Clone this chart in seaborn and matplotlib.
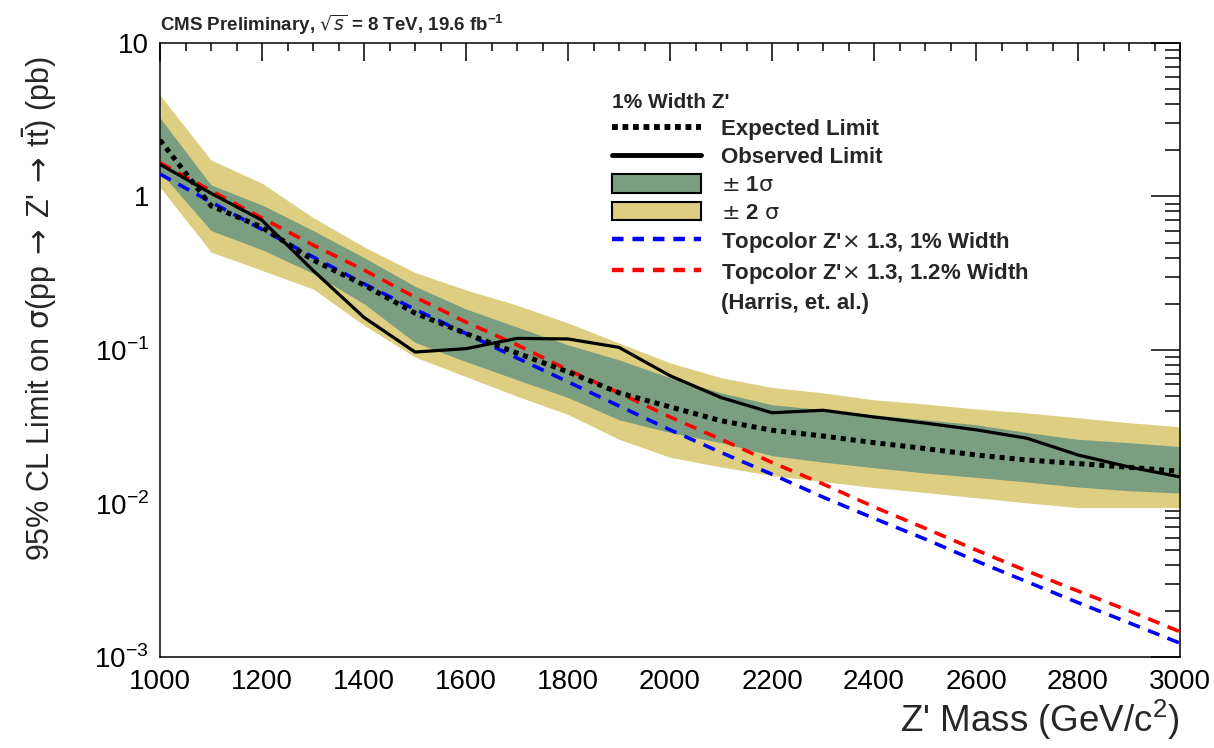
import matplotlib
matplotlib.use("Agg")
import matplotlib.pyplot as plt
import seaborn as sns
from matplotlib.lines import Line2D
from matplotlib.patches import Patch
from matplotlib.ticker import FixedLocator, FixedFormatter, MultipleLocator, LogLocator, NullFormatter

# --- DATA ---
mass = [1000, 1100, 1200, 1300, 1400, 1500, 1600, 1700, 1800, 1900, 2000,
        2100, 2200, 2300, 2400, 2500, 2600, 2700, 2800, 2900, 3000]

expected = [2.33, 0.87, 0.63, 0.386, 0.265, 0.174, 0.128, 0.0955, 0.072, 0.0526, 0.0426,
            0.0346, 0.0300, 0.0275, 0.0249, 0.0228, 0.0207, 0.0192, 0.0182, 0.0172, 0.0162]
observed = [1.62, 1.05, 0.70, 0.33, 0.163, 0.097, 0.102, 0.119, 0.118, 0.104, 0.068,
            0.049, 0.039, 0.0405, 0.0366, 0.0334, 0.0302, 0.0266, 0.0207, 0.0173, 0.0149]

sigma1_hi = [3.25, 1.19, 0.88, 0.60, 0.40, 0.26, 0.185, 0.141, 0.108, 0.0862, 0.066,
             0.0526, 0.044, 0.0408, 0.0378, 0.0351, 0.0326, 0.029, 0.0262, 0.0249, 0.0235]
sigma1_lo = [1.45, 0.60, 0.45, 0.316, 0.20, 0.112, 0.084, 0.064, 0.049, 0.0351, 0.029,
             0.0249, 0.0205, 0.0186, 0.0171, 0.0158, 0.0148, 0.0138, 0.0128, 0.0121, 0.0117]
sigma2_hi = [4.58, 1.73, 1.22, 0.73, 0.47, 0.32, 0.246, 0.196, 0.150, 0.111, 0.0825,
             0.066, 0.057, 0.0526, 0.0474, 0.0445, 0.0413, 0.0389, 0.0362, 0.0336, 0.0316]
sigma2_lo = [1.15, 0.435, 0.33, 0.25, 0.145, 0.09, 0.067, 0.05, 0.038, 0.0262, 0.020,
             0.0173, 0.0152, 0.0139, 0.0127, 0.0118, 0.0109, 0.0101, 0.0094, 0.0094, 0.0094]

topcolor_1pct = [1.40, 0.92, 0.61, 0.404, 0.27, 0.184, 0.128, 0.0887, 0.062, 0.0432, 0.0302,
                 0.0215, 0.0155, 0.0110, 0.0080, 0.00587, 0.00423, 0.00309, 0.00226, 0.00167, 0.00123]
topcolor_12pct = [1.66, 1.09, 0.724, 0.483, 0.332, 0.221, 0.152, 0.108, 0.0741, 0.0526, 0.0366,
                  0.0262, 0.0185, 0.0134, 0.0095, 0.0069, 0.00498, 0.00363, 0.00269, 0.0020, 0.00146]

x_ticks = [1000, 1200, 1400, 1600, 1800, 2000, 2200, 2400, 2600, 2800, 3000]
y_ticks = [1e-3, 1e-2, 1e-1, 1, 10]
y_ticklabels = [r"10$^{\mathregular{-3}}$", r"10$^{\mathregular{-2}}$", r"10$^{\mathregular{-1}}$", "1", "10"]

GREEN = "#7b9e80"
YELLOW = "#dece82"

# --- STYLE ---
sns.set_theme(style="white")
plt.rcParams["font.family"] = ["Liberation Sans", "DejaVu Sans"]
plt.rcParams["mathtext.fontset"] = "dejavusans"

fig = plt.figure(figsize=(12.14, 7.48), dpi=100)
ax = fig.add_axes([0.1318, 0.1217, 0.8402, 0.8208])

# uncertainty bands
ax.fill_between(mass, sigma2_lo, sigma2_hi, color=YELLOW, lw=0, zorder=1)
ax.fill_between(mass, sigma1_lo, sigma1_hi, color=GREEN, lw=0, zorder=2)

# theory curves and limits
dash = (0, (3.4, 2.4))
sns.lineplot(x=mass, y=topcolor_1pct, ax=ax, color="#0000ff", lw=2.6, linestyle=dash, zorder=3)
sns.lineplot(x=mass, y=topcolor_12pct, ax=ax, color="#ff0000", lw=2.6, linestyle=dash, zorder=3)
sns.lineplot(x=mass, y=expected, ax=ax, color="black", lw=3.6, linestyle=(0, (1, 1)), zorder=4)
sns.lineplot(x=mass, y=observed, ax=ax, color="black", lw=2.3, zorder=5)

ax.set_yscale("log")
ax.set_xlim(1000, 3000)
ax.set_ylim(1e-3, 10)

# ROOT-like ticks on all sides, pointing in
ax.xaxis.set_major_locator(FixedLocator(x_ticks))
ax.xaxis.set_minor_locator(MultipleLocator(50))
ax.yaxis.set_major_locator(FixedLocator(y_ticks))
ax.yaxis.set_major_formatter(FixedFormatter(y_ticklabels))
ax.yaxis.set_minor_locator(LogLocator(base=10, subs=range(2, 10), numticks=20))
ax.yaxis.set_minor_formatter(NullFormatter())
ax.tick_params(axis="both", which="both", direction="in", top=True, right=True,
               colors="black", width=1.1)
ax.tick_params(axis="x", which="major", length=13, labelsize=20, pad=9)
ax.tick_params(axis="x", which="minor", length=6)
ax.tick_params(axis="y", which="major", length=21, labelsize=20, pad=8)
ax.tick_params(axis="y", which="minor", length=10.5)
for sp in ax.spines.values():
    sp.set_linewidth(1.1)
    sp.set_color("black")

ax.set_xlabel(r"Z' Mass (GeV/c$^{\mathregular{2}}$)", fontsize=26.5, loc="right", labelpad=1)
ax.set_ylabel(r"95% CL Limit on $\mathrm{\sigma}$(pp$\,\rightarrow\,$Z'$\,\rightarrow\,$t$\bar{\mathregular{t}}$) (pb)",
              fontsize=22, loc="top")
ax.yaxis.set_label_coords(-0.099, 0.978)
ax.set_title(r"CMS Preliminary, $\sqrt{s}$ = 8 TeV, 19.6 fb$^{\mathregular{-1}}$",
             loc="left", fontsize=13.5, fontweight="bold", pad=9)

# legend
handles = [
    Line2D([], [], color="black", lw=4.2, linestyle=(0, (1, 0.8))),
    Line2D([], [], color="black", lw=3.5),
    Patch(facecolor=GREEN, edgecolor="black", lw=1.5),
    Patch(facecolor=YELLOW, edgecolor="black", lw=1.5),
    Line2D([], [], color="#0000ff", lw=3.2, linestyle=(0, (2.6, 2.0))),
    Line2D([], [], color="#ff0000", lw=3.2, linestyle=(0, (2.6, 2.0))),
    Line2D([], [], color="none"),
]
labels = [
    "Expected Limit",
    "Observed Limit",
    r"$\pm$ 1$\mathrm{\sigma}$",
    r"$\pm$ 2 $\mathrm{\sigma}$",
    r"Topcolor Z'$\times$ 1.3, 1% Width",
    r"Topcolor Z'$\times$ 1.3, 1.2% Width",
    "(Harris, et. al.)",
]
leg = ax.legend(handles, labels, loc="upper left", bbox_to_anchor=(0.443, 0.918),
                frameon=False, title="1% Width Z'", alignment="left",
                prop={"size": 16, "weight": "bold"},
                title_fontproperties={"size": 15, "weight": "bold"},
                handlelength=4.0, handleheight=0.9, handletextpad=0.9,
                labelspacing=0.27, borderpad=0.0, borderaxespad=0.0)

fig.savefig("out.png", dpi=100)
